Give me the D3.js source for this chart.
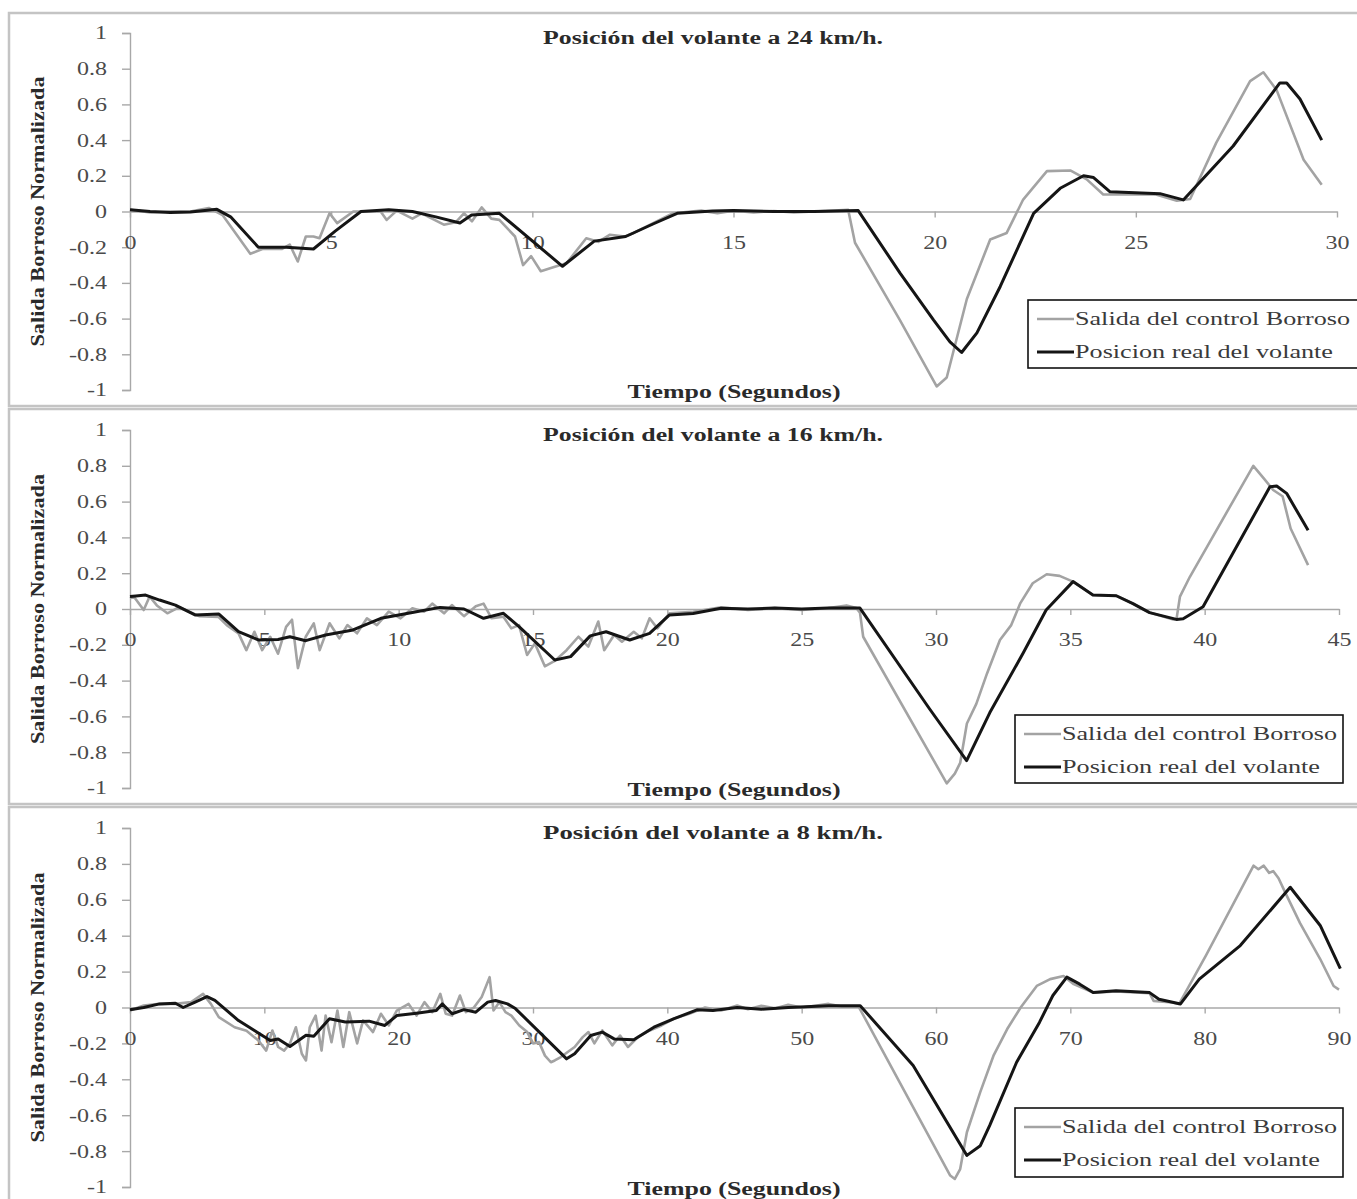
<!DOCTYPE html>
<html>
<head>
<meta charset="utf-8">
<script src="https://cdn.jsdelivr.net/npm/d3@7"></script>
<style>
  body { margin: 0; background: #fff; }
  svg { display: block; font-family: "Liberation Serif", "DejaVu Serif", serif; }
</style>
</head>
<body>
<div id="chart"></div>
<script>
// --- data: [time (s), normalised output] ---
const fuzzy24 = [[0,0.01],[0.5,-0.005],[1,0],[1.5,0],[1.96,0.02],[2.3,-0.02],[2.99,-0.237],[3.29,-0.21],[3.78,-0.21],[3.97,-0.185],[4.17,-0.28],[4.37,-0.14],[4.56,-0.14],[4.71,-0.15],[4.96,-0.01],[5.15,-0.065],[5.55,0],[6.23,0],[6.38,-0.047],[6.63,0.005],[7.02,-0.04],[7.25,-0.01],[7.8,-0.074],[8.1,-0.06],[8.3,-0.01],[8.5,-0.055],[8.74,0.023],[8.98,-0.04],[9.18,-0.047],[9.57,-0.14],[9.77,-0.3],[9.97,-0.25],[10.21,-0.335],[10.56,-0.31],[10.85,-0.29],[11.34,-0.15],[11.64,-0.17],[11.93,-0.13],[12.3,-0.14],[12.52,-0.12],[13.5,-0.01],[14.2,0.005],[14.6,-0.01],[15,0.005],[15.5,-0.005],[16,0.003],[16.5,-0.005],[17,0],[17.5,0.005],[17.85,0.01],[18.02,-0.175],[19.14,-0.61],[20.05,-0.98],[20.3,-0.93],[20.8,-0.49],[21.38,-0.157],[21.79,-0.12],[22.2,0.067],[22.79,0.226],[23.37,0.23],[23.78,0.18],[24.19,0.095],[25.5,0.095],[26.02,0.06],[26.35,0.07],[27.0,0.386],[27.84,0.73],[28.17,0.78],[28.5,0.68],[29.17,0.29],[29.62,0.15]];
const real24 = [[0,0.01],[0.5,0],[1,-0.005],[1.5,-0.003],[2.16,0.012],[2.5,-0.03],[3.19,-0.2],[3.88,-0.2],[4.56,-0.21],[5.1,-0.11],[5.74,0],[6.43,0.01],[7.02,0],[7.6,-0.03],[8.2,-0.064],[8.49,-0.02],[9.18,-0.01],[10.75,-0.307],[11.54,-0.166],[12.32,-0.14],[13.0,-0.07],[13.6,-0.01],[14.48,0.003],[15,0.005],[16,0],[17,0],[18.1,0.005],[19.14,-0.345],[19.97,-0.607],[20.38,-0.73],[20.67,-0.79],[21.05,-0.68],[21.63,-0.42],[22.46,-0.01],[23.12,0.13],[23.7,0.2],[23.95,0.19],[24.36,0.11],[25.6,0.1],[26.18,0.065],[27.42,0.367],[28.58,0.72],[28.75,0.72],[29.08,0.63],[29.62,0.4]];

const fuzzy16 = [[0,0.06],[0.14,0.07],[0.51,-0.006],[0.73,0.07],[1.0,0.02],[1.39,-0.024],[1.83,0.01],[2.57,-0.04],[3.3,-0.045],[3.6,-0.09],[4.04,-0.136],[4.33,-0.23],[4.63,-0.127],[4.92,-0.23],[5.22,-0.155],[5.51,-0.25],[5.81,-0.1],[6.03,-0.06],[6.25,-0.33],[6.54,-0.155],[6.84,-0.08],[7.06,-0.23],[7.43,-0.08],[7.79,-0.164],[8.09,-0.09],[8.45,-0.136],[8.82,-0.052],[9.19,-0.09],[9.63,-0.015],[10.07,-0.052],[10.51,0.004],[10.95,-0.015],[11.25,0.03],[11.69,-0.024],[11.98,0.022],[12.43,-0.04],[12.87,0.015],[13.16,0.03],[13.46,-0.052],[13.9,-0.043],[14.19,-0.108],[14.48,-0.09],[14.78,-0.257],[15.07,-0.192],[15.44,-0.32],[15.81,-0.29],[16.25,-0.23],[16.69,-0.155],[17.06,-0.21],[17.43,-0.07],[17.65,-0.23],[18.02,-0.145],[18.31,-0.183],[18.75,-0.127],[19.05,-0.164],[19.34,-0.052],[19.63,-0.108],[20.08,-0.024],[20.96,-0.015],[22.0,0.01],[23,-0.005],[24,0.005],[25,-0.005],[26,0.005],[26.67,0.02],[27.04,0.005],[27.17,-0.02],[27.29,-0.155],[30.4,-0.974],[30.7,-0.92],[30.9,-0.86],[31.15,-0.64],[31.5,-0.53],[31.9,-0.36],[32.38,-0.173],[32.8,-0.09],[33.14,0.033],[33.6,0.144],[34.12,0.194],[34.6,0.185],[35.1,0.153],[35.84,0.078],[36.71,0.074],[37.33,0.03],[37.95,-0.02],[38.83,-0.058],[38.95,-0.058],[39.08,0.069],[39.45,0.18],[41.81,0.80],[42.2,0.73],[42.55,0.665],[42.9,0.63],[43.2,0.45],[43.85,0.245]];
const real16 = [[0,0.07],[0.22,0.073],[0.58,0.078],[1.1,0.05],[1.69,0.022],[2.42,-0.033],[3.31,-0.028],[4.04,-0.127],[4.78,-0.173],[5.51,-0.17],[5.95,-0.155],[6.54,-0.177],[7.28,-0.145],[8.3,-0.117],[9.34,-0.052],[10.51,-0.02],[11.54,0.009],[12.43,0],[13.16,-0.052],[13.9,-0.024],[14.48,-0.099],[15.81,-0.285],[16.4,-0.266],[17.13,-0.15],[17.72,-0.127],[18.6,-0.173],[19.34,-0.136],[20.08,-0.033],[20.96,-0.025],[22.0,0.004],[23,0],[24,0.005],[25,0],[26,0.005],[27.17,0.005],[29.77,-0.56],[31.14,-0.847],[32.0,-0.58],[33.24,-0.247],[34.1,-0.006],[35.1,0.153],[35.84,0.078],[36.71,0.074],[37.33,0.03],[37.95,-0.02],[38.95,-0.058],[39.2,-0.055],[39.94,0.013],[42.43,0.683],[42.68,0.687],[43.05,0.646],[43.85,0.44]];

const fuzzy8 = [[0,-0.017],[1.02,0.011],[2.2,0.02],[3.38,0.02],[4.55,0.03],[5.44,0.076],[6.02,0.02],[6.61,-0.054],[7.79,-0.11],[8.67,-0.13],[9.56,-0.184],[10.14,-0.24],[10.6,-0.128],[11.03,-0.22],[11.47,-0.24],[11.91,-0.2],[12.35,-0.11],[12.79,-0.258],[13.1,-0.295],[13.38,-0.11],[13.82,-0.045],[14.26,-0.24],[14.56,-0.045],[15.0,-0.193],[15.44,-0.017],[15.88,-0.22],[16.32,-0.026],[16.91,-0.2],[17.35,-0.072],[18.09,-0.137],[18.68,-0.035],[19.27,-0.1],[19.86,-0.017],[20.74,0.02],[21.33,-0.045],[21.92,0.03],[22.5,-0.026],[23.1,0.076],[23.5,-0.035],[23.98,-0.045],[24.56,0.067],[25.0,-0.026],[25.6,0],[26.18,0.058],[26.77,0.169],[27.06,-0.017],[27.5,0.03],[27.95,-0.026],[28.39,-0.045],[28.98,-0.1],[29.57,-0.137],[30.01,-0.2],[30.45,-0.193],[30.89,-0.268],[31.33,-0.305],[31.62,-0.295],[32.07,-0.276],[33.1,-0.22],[33.7,-0.165],[34.13,-0.137],[34.57,-0.2],[35.16,-0.128],[35.9,-0.211],[36.48,-0.156],[37.07,-0.22],[37.81,-0.165],[38.69,-0.128],[39.57,-0.1],[40.46,-0.063],[41.63,-0.035],[42.81,0],[44.0,-0.017],[45.2,0.011],[46,-0.01],[47,0.01],[48,-0.005],[49,0.015],[50,0],[51,0.01],[52,0.02],[53,0.005],[54.24,0.005],[61.06,-0.936],[61.4,-0.955],[61.8,-0.9],[62.3,-0.695],[63.3,-0.47],[64.3,-0.265],[65.3,-0.12],[66.3,0],[67.5,0.12],[68.5,0.158],[69.5,0.175],[70.25,0.13],[71.7,0.083],[73.4,0.09],[75.9,0.08],[76.2,0.037],[77.6,0.028],[78.1,0.02],[80.1,0.29],[83.64,0.79],[84.0,0.77],[84.4,0.79],[84.8,0.75],[85.1,0.76],[85.5,0.72],[86.0,0.64],[87.1,0.47],[88.6,0.27],[89.6,0.12],[90,0.1]];
const real8 = [[0,-0.013],[1.02,0],[2.2,0.02],[3.38,0.024],[3.96,0],[4.85,0.03],[5.73,0.061],[6.32,0.04],[8.08,-0.073],[10.44,-0.184],[11.03,-0.175],[11.91,-0.217],[13.1,-0.155],[13.68,-0.16],[14.85,-0.063],[16.03,-0.081],[17.8,-0.076],[18.97,-0.1],[19.86,-0.045],[21.33,-0.032],[22.8,-0.017],[23.24,0.02],[23.98,-0.035],[24.86,-0.012],[25.74,-0.026],[26.63,0.03],[27.21,0.039],[28.1,0.02],[28.69,-0.006],[32.5,-0.286],[33.1,-0.258],[34.3,-0.156],[35.16,-0.137],[36.04,-0.175],[37.5,-0.18],[39.0,-0.11],[40.46,-0.063],[42.2,-0.013],[43.4,-0.017],[45.2,0],[47,-0.01],[49,0],[52,0.01],[54.36,0.01],[58.3,-0.323],[62.3,-0.824],[63.3,-0.77],[64.0,-0.657],[66.0,-0.305],[67.7,-0.083],[68.7,0.067],[69.74,0.169],[70.7,0.13],[71.7,0.083],[73.4,0.093],[75.9,0.083],[76.6,0.046],[78.2,0.02],[79.6,0.158],[82.65,0.345],[86.37,0.67],[88.6,0.457],[90.1,0.217]];

const titles = ["Posición del volante a 24 km/h.", "Posición del volante a 16 km/h.", "Posición del volante a 8 km/h."];
const xMaxes = [30, 45, 90];
const xSteps = [5, 5, 10];
const yTicks = [1, 0.8, 0.6, 0.4, 0.2, 0, -0.2, -0.4, -0.6, -0.8, -1];
const seriesNames = ["Salida del control Borroso", "Posicion real del volante"];
const xLabel = "Tiempo (Segundos)";
const yLabel = "Salida Borroso Normalizada";

// --- layout ---
const W = 1357, H = 1199;
const stretch = 1.3;  // text in the picture is wider than it is tall
const grey = "#a3a3a3", black = "#151515";

const panels = [
  { fuzzy: fuzzy24, real: real24, top: 33, bottom: 390, right: 1337, frame: [13, 406], legend: [1028, 300, 332, 68] },
  { fuzzy: fuzzy16, real: real16, top: 430, bottom: 788, right: 1339, frame: [409, 804], legend: [1015, 715, 328, 68] },
  { fuzzy: fuzzy8, real: real8, top: 828, bottom: 1187, right: 1339, frame: [807, 1220], legend: [1015, 1108, 328, 69] }
];

const svg = d3.select("#chart").append("svg")
  .attr("width", W).attr("height", H);

svg.append("rect").attr("width", W).attr("height", H).attr("fill", "#fff");

panels.forEach(function (p, i) {
  const g = svg.append("g");

  g.append("rect")
    .attr("x", 9).attr("y", p.frame[0])
    .attr("width", W + 10).attr("height", p.frame[1] - p.frame[0])
    .attr("fill", "none").attr("stroke", "#c4c4c4").attr("stroke-width", 2.5);

  const x = d3.scaleLinear().domain([0, xMaxes[i]]).range([130, p.right]);
  const y = d3.scaleLinear().domain([-1, 1]).range([p.bottom, p.top]);

  // y axis
  const yAxis = g.append("g")
    .attr("transform", "translate(130,0)")
    .call(d3.axisLeft(y).tickValues(yTicks).tickSize(8).tickPadding(15)
      .tickFormat(d => String(+d.toFixed(1))));
  // x axis on the zero line
  const xAxis = g.append("g")
    .attr("transform", `translate(0,${y(0)})`)
    .call(d3.axisBottom(x).tickValues(d3.range(0, xMaxes[i] + 0.001, xSteps[i]))
      .tickSizeInner(6).tickSizeOuter(0).tickPadding(18));

  [yAxis, xAxis].forEach(function (a) {
    a.select(".domain").attr("stroke", "#a8a8a8").attr("stroke-width", 1.4);
    a.selectAll(".tick line").attr("stroke", "#a8a8a8").attr("stroke-width", 1.4);
    a.selectAll(".tick text")
      .attr("fill", "#4a4a4a").attr("font-size", 18.5)
      .attr("font-family", "Liberation Serif, serif");
  });
  yAxis.selectAll(".tick text")
    .attr("x", -23 / stretch).attr("transform", `scale(${stretch},1)`);
  xAxis.selectAll(".tick text")
    .attr("transform", `scale(${stretch},1)`);

  const line = d3.line().x(d => x(d[0])).y(d => y(d[1]));

  g.append("path").datum(p.fuzzy)
    .attr("d", line).attr("fill", "none")
    .attr("stroke", grey).attr("stroke-width", 2.6).attr("stroke-linejoin", "round");
  g.append("path").datum(p.real)
    .attr("d", line).attr("fill", "none")
    .attr("stroke", black).attr("stroke-width", 3).attr("stroke-linejoin", "round");

  // texts
  g.append("text")
    .attr("x", 713).attr("y", p.top + 11)
    .attr("text-anchor", "middle").attr("font-weight", "bold")
    .attr("font-size", 18).attr("fill", "#2a2a2a")
    .attr("textLength", 340).attr("lengthAdjust", "spacingAndGlyphs")
    .text(titles[i]);

  g.append("text")
    .attr("x", 734).attr("y", p.bottom + 8)
    .attr("text-anchor", "middle").attr("font-weight", "bold")
    .attr("font-size", 19).attr("fill", "#2a2a2a")
    .attr("textLength", 213).attr("lengthAdjust", "spacingAndGlyphs")
    .text(xLabel);

  g.append("text")
    .attr("transform", `translate(44,${y(0)}) rotate(-90)`)
    .attr("text-anchor", "middle").attr("font-weight", "bold")
    .attr("font-size", 18).attr("fill", "#2a2a2a")
    .attr("textLength", 270).attr("lengthAdjust", "spacingAndGlyphs")
    .text(yLabel);

  // legend
  const [lx, ly, lw, lh] = p.legend;
  const lg = g.append("g");
  lg.append("rect")
    .attr("x", lx).attr("y", ly).attr("width", lw).attr("height", lh)
    .attr("fill", "#fff").attr("stroke", "#111").attr("stroke-width", 1.6);
  [[grey, 2.6, 19, 275], [black, 3, 52, 258]].forEach(function (r, k) {
    lg.append("line")
      .attr("x1", lx + 9).attr("x2", lx + 46)
      .attr("y1", ly + r[2]).attr("y2", ly + r[2])
      .attr("stroke", r[0]).attr("stroke-width", r[1]);
    lg.append("text")
      .attr("x", lx + 47).attr("y", ly + r[2] + 6)
      .attr("font-size", 19.5).attr("fill", "#3a3a3a")
      .attr("textLength", r[3]).attr("lengthAdjust", "spacingAndGlyphs")
      .text(seriesNames[k]);
  });
});
</script>
</body>
</html>
